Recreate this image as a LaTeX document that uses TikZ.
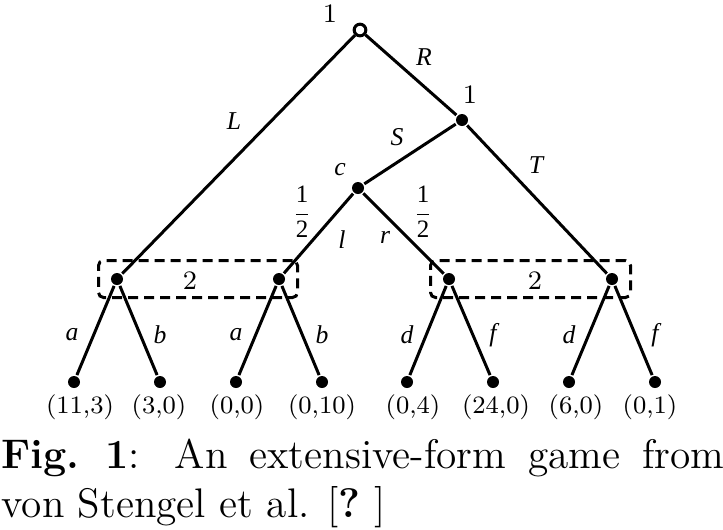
\documentclass[tikz,border=0pt]{standalone}
\usepackage{amsmath}
\usepackage{fontspec}
\newfontfamily\lblfont{Liberation Serif}
\usetikzlibrary{positioning,calc,fit}
\tikzset{font=\small}
\tikzset{
	pnode/.style={circle, fill, inner sep=0pt, minimum size=3.6pt},
	rnode/.style={circle, draw, fill=white, inner sep=0pt, minimum size=3.5pt},
	infoset/.style={draw, dash pattern=on 3pt off 1.8pt, rounded corners=1.5pt, inner xsep=3.3pt, inner ysep=3.3pt},
	lbl/.style={font=\fontsize{7.7}{9}\selectfont\lblfont\itshape, inner sep=0pt},
	frc/.style={font=\fontsize{7.5}{8}\selectfont\lblfont, inner sep=0pt},
	num/.style={font=\fontsize{8}{9}\selectfont, inner sep=0pt},
	pay/.style={font=\fontsize{7.5}{9}\selectfont, inner sep=0pt, anchor=base},
	capt/.style={anchor=base west, inner sep=0pt, font=\fontsize{12.4}{14}\selectfont},
}

\begin{document}
\begin{tikzpicture}[x=0.3pt, y=-0.3pt, line width=0.9pt]
	\useasboundingbox (0,0) rectangle (723,529);
	\begin{scope}
		\node[rnode] (root) at (360, 30) {};
		\node[pnode] (p1) at (462, 120) {};
		\node[pnode] (ch) at (358, 188) {};
		\node[pnode] (x1) at (117, 279) {};
		\node[pnode] (x2) at (279, 279) {};
		\node[pnode] (y1) at (449, 279) {};
		\node[pnode] (y2) at (612, 279) {};

		\node[pnode] (z1) at (74, 382) {};
		\node[pnode] (z2) at (160, 382) {};
		\node[pnode] (z3) at (236, 382) {};
		\node[pnode] (z4) at (322, 382) {};
		\node[pnode] (z5) at (407, 382) {};
		\node[pnode] (z6) at (493, 382) {};
		\node[pnode] (z7) at (569, 382) {};
		\node[pnode] (z8) at (655, 382) {};

		\draw (root) -- (x1);
		\draw (root) -- (p1);
		\draw (p1) -- (ch);
		\draw (p1) -- (y2);
		\draw (ch) -- (x2);
		\draw (ch) -- (y1);
		\draw (x1) -- (z1);
		\draw (x1) -- (z2);
		\draw (x2) -- (z3);
		\draw (x2) -- (z4);
		\draw (y1) -- (z5);
		\draw (y1) -- (z6);
		\draw (y2) -- (z7);
		\draw (y2) -- (z8);

		\node[infoset, fit=(x1)(x2)] (is1) {};
		\node[infoset, fit=(y1)(y2)] (is2) {};
		\node[font=\fontsize{8}{9}\selectfont, inner sep=0pt] (is1lbl) at (190, 281) {2};
		\node[font=\fontsize{8}{9}\selectfont, inner sep=0pt] (is2lbl) at (535, 281) {2};

		\node[num] (rootlbl) at (330, 14) {1};
		\node[num] (p1lbl) at (470, 95) {1};
		\node[lbl] (chlbl) at (340, 170) {c};

		\node[lbl] (eL) at (234, 121) {L};
		\node[lbl] (eR) at (424, 57) {R};
		\node[lbl] (eS) at (397, 137) {S};
		\node[lbl] (eT) at (536, 165) {T};
		\node[lbl] (el) at (342, 240) {l};
		\node[lbl] (er) at (385, 237) {r};
		\node[frc] (pl) at (302, 212) {$\dfrac{\text{1}}{\text{2}}$};
		\node[frc] (pr) at (423, 212) {$\dfrac{\text{1}}{\text{2}}$};

		\node[lbl] (ea1) at (72, 335) {a};
		\node[lbl] (eb1) at (160, 335) {b};
		\node[lbl] (ea2) at (236, 335) {a};
		\node[lbl] (eb2) at (322, 335) {b};
		\node[lbl] (ed1) at (407, 335) {d};
		\node[lbl] (ef1) at (493, 335) {f};
		\node[lbl] (ed2) at (569, 335) {d};
		\node[lbl] (ef2) at (655, 335) {f};

		\node[pay] (u1) at (80, 413) {(11,3)};
		\node[pay] (u2) at (159, 413) {(3,0)};
		\node[pay] (u3) at (237, 413) {(0,0)};
		\node[pay] (u4) at (322, 413) {(0,10)};
		\node[pay] (u5) at (413, 413) {(0,4)};
		\node[pay] (u6) at (496, 413) {(24,0)};
		\node[pay] (u7) at (576, 413) {(6,0)};
		\node[pay] (u8) at (650, 413) {(0,1)};

		\node[capt] (cap1) at (0, 468)
			{\makebox[216.9pt][s]{\textbf{Fig.\ 1}: An extensive-form game from}};
		\node[capt] (cap2) at (0, 517)
			{von Stengel et al. [\textbf{?}\ ]};
	\end{scope}
\end{tikzpicture}
\end{document}
